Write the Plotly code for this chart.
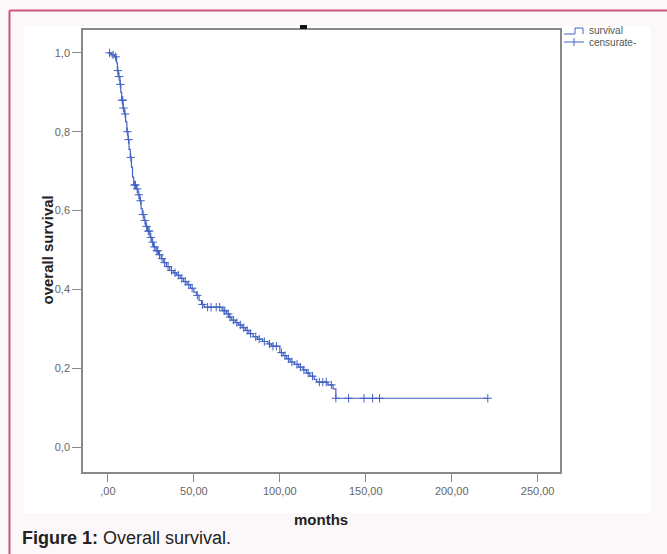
import plotly.graph_objects as go

# ---- data ----
event_months = [0, 2, 4, 5, 5.5, 6, 7, 7.5, 8, 8.8, 9.5, 10.3, 11, 11.7, 12.3, 13, 13.7, 14.3, 15,
                16.5, 17.5, 18.5, 19.3, 20, 21, 22, 23, 24.5, 25.5, 26.5, 28, 29.5, 31, 32.5, 34,
                36, 38, 40, 42, 44, 46, 48, 50, 51.5, 53, 54.5, 56, 66.5, 69, 70.5, 72, 74, 76,
                78, 80, 82, 84.5, 87, 90, 93, 95, 100, 102, 104, 106, 108.5, 111, 113.5, 115.5,
                117.5, 120, 121.5, 128, 131, 132.6, 221]
survival = [1.0, 0.995, 0.99, 0.975, 0.955, 0.94, 0.92, 0.90, 0.88, 0.86, 0.845, 0.825, 0.80, 0.78,
            0.755, 0.735, 0.71, 0.685, 0.665, 0.655, 0.64, 0.625, 0.605, 0.59, 0.575, 0.56, 0.548,
            0.532, 0.52, 0.508, 0.498, 0.488, 0.478, 0.468, 0.458, 0.448, 0.442, 0.436, 0.428,
            0.42, 0.412, 0.403, 0.393, 0.385, 0.372, 0.362, 0.355, 0.346, 0.338, 0.33, 0.322,
            0.316, 0.31, 0.303, 0.296, 0.288, 0.28, 0.274, 0.268, 0.262, 0.256, 0.24, 0.232,
            0.224, 0.216, 0.21, 0.203, 0.196, 0.188, 0.18, 0.172, 0.165, 0.158, 0.148, 0.124, 0.124]

censor_months = [1, 3, 4.5, 5.8, 6.5, 7.2, 8.3, 8.6, 9, 10, 11.3, 12, 13.3, 15.5, 16, 17, 18, 19,
                 20.5, 21.5, 22.5, 23.5, 24, 25, 26, 27, 28.5, 29, 30, 31.5, 33, 35, 37, 39, 41,
                 43, 45, 47, 49, 52, 55, 58, 60, 63, 65, 67.5, 68, 70, 71, 73, 75, 77, 79, 81,
                 83, 86, 88, 91, 94, 96, 98, 101, 103, 105, 107, 110, 112, 114, 116.5, 119, 123,
                 125, 127, 130, 132.6, 140, 149, 154, 158, 221]
censor_survival = [1.0, 0.995, 0.99, 0.955, 0.94, 0.92, 0.88, 0.88, 0.86, 0.845, 0.80, 0.78, 0.735,
                   0.665, 0.665, 0.655, 0.64, 0.625, 0.59, 0.575, 0.56, 0.548, 0.548, 0.532, 0.52,
                   0.508, 0.498, 0.498, 0.488, 0.478, 0.468, 0.458, 0.448, 0.442, 0.436, 0.428,
                   0.42, 0.412, 0.403, 0.385, 0.362, 0.355, 0.355, 0.355, 0.355, 0.346, 0.346,
                   0.338, 0.33, 0.322, 0.316, 0.31, 0.303, 0.296, 0.288, 0.28, 0.274, 0.268, 0.262,
                   0.256, 0.256, 0.24, 0.232, 0.224, 0.216, 0.21, 0.203, 0.196, 0.188, 0.18, 0.165,
                   0.165, 0.165, 0.158, 0.124, 0.124, 0.124, 0.124, 0.124, 0.124]

x_tickvals = [0, 50, 100, 150, 200, 250]
x_ticktext = [",00", "50,00", "100,00", "150,00", "200,00", "250,00"]
y_tickvals = [0, 0.2, 0.4, 0.6, 0.8, 1.0]
y_ticktext = ["0,0", "0,2", "0,4", "0,6", "0,8", "1,0"]
legend_labels = ["survival", "censurate-"]

BLUE = "#4262c4"
FONT = "Liberation Sans, Arial, sans-serif"

fig = go.Figure()
fig.add_trace(go.Scatter(x=event_months, y=survival, mode="lines", line_shape="hv",
                         line=dict(color=BLUE, width=1.2), name=legend_labels[0],
                         showlegend=False, hoverinfo="skip"))
fig.add_trace(go.Scatter(x=censor_months, y=censor_survival, mode="markers",
                         marker=dict(symbol="cross-thin", size=6,
                                     line=dict(color=BLUE, width=1)),
                         name=legend_labels[1], showlegend=False, hoverinfo="skip"))

L, R, T, B = 83, 560, 30, 472
W, H = 667, 554
pw, ph = R - L, B - T

def px(x):
    return (x - L) / pw

def py(y):
    return (B - y) / ph

def seg(x0, y0, x1, y1, color, width):
    return dict(type="line", xref="paper", yref="paper", x0=px(x0), x1=px(x1),
                y0=py(y0), y1=py(y1), line=dict(color=color, width=width))

shapes = [
    # white image area
    dict(type="rect", xref="paper", yref="paper", x0=px(24), x1=px(651), y0=py(513), y1=py(26),
         fillcolor="white", line=dict(width=0), layer="below"),
    # pink border (left and top)
    seg(9.5, 10.5, 9.5, 600, "#c9557c", 2),
    seg(9.5, 10.5, 700, 10.5, "#c9557c", 2),
    # remnant of cropped title
    dict(type="rect", xref="paper", yref="paper", x0=px(300), x1=px(307), y0=py(29), y1=py(25),
         fillcolor="#111", line=dict(width=0)),
    # legend symbols: step line for survival
    seg(564, 34, 575, 34, BLUE, 1),
    seg(575, 34, 575, 28, BLUE, 1),
    seg(575, 28, 583, 28, BLUE, 1),
    seg(583, 28, 583, 34, BLUE, 1),
    # legend symbol: line with cross for censored
    seg(564, 42, 584, 42, BLUE, 1),
    seg(574, 38, 574, 46, BLUE, 1),
]

annotations = [
    dict(text="<b>overall survival</b>", xref="paper", yref="paper", x=px(36), y=py(250),
         textangle=-90, showarrow=False, font=dict(family=FONT, size=15, color="#222")),
    dict(text="<b>months</b>", xref="paper", yref="paper", x=px(321), y=py(519),
         yanchor="middle", showarrow=False, font=dict(family=FONT, size=15, color="#222")),
    dict(text="<b>Figure 1:</b> Overall survival.", xref="paper", yref="paper", x=px(20),
         y=py(538), xanchor="left", yanchor="middle", showarrow=False,
         font=dict(family=FONT, size=18, color="#222")),
    dict(text=legend_labels[0], xref="paper", yref="paper", x=px(587), y=py(31),
         xanchor="left", yanchor="middle", showarrow=False,
         font=dict(family=FONT, size=10, color="#555")),
    dict(text=legend_labels[1], xref="paper", yref="paper", x=px(587), y=py(42),
         xanchor="left", yanchor="middle", showarrow=False,
         font=dict(family=FONT, size=10, color="#555")),
]

fig.update_layout(
    width=W, height=H,
    margin=dict(l=L, r=W - R, t=T, b=H - B, pad=0),
    paper_bgcolor="#fcf8f9", plot_bgcolor="white",
    font=dict(family=FONT, size=11, color="#555"),
    showlegend=False, hovermode=False,
    shapes=shapes, annotations=annotations,
)
fig.update_xaxes(range=[-14.5, 263], tickvals=x_tickvals, ticktext=x_ticktext,
                 showgrid=False, zeroline=False, showline=True, mirror=True,
                 linecolor="#8a8a8a", linewidth=1.5, ticks="outside", ticklen=8,
                 tickcolor="#8a8a8a", tickfont=dict(family=FONT, size=11, color="#666"))
fig.update_yaxes(range=[-0.063, 1.058], tickvals=y_tickvals, ticktext=y_ticktext,
                 showgrid=False, zeroline=False, showline=True, mirror=True,
                 linecolor="#8a8a8a", linewidth=1.5, ticks="outside", ticklen=9,
                 tickcolor="#8a8a8a", tickfont=dict(family=FONT, size=11, color="#666"))

fig.write_html("out.html", config={"displayModeBar": False},
               post_script="document.body.style.margin='0';document.body.style.overflow='hidden';")
